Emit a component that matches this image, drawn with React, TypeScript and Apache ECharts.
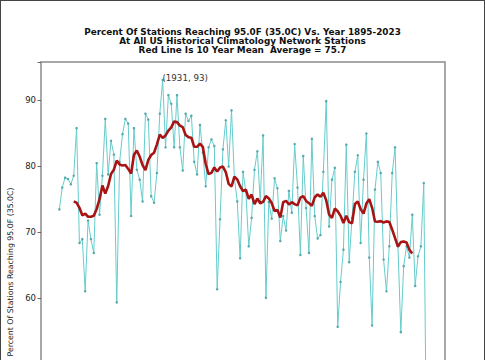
import React, { useEffect, useRef } from "react";
import * as echarts from "echarts";

const firstYear = 1895;
const stationPercent: number[] = [
  // 1895-1919
  73.4, 76.7, 78.2, 78.0, 77.2, 78.5, 85.7, 68.3, 68.9, 61.0,
  71.7, 68.9, 66.8, 80.4, 72.6, 78.5, 87.1, 78.7, 83.8, 81.7,
  59.3, 80.6, 84.8, 87.1, 86.4,
  // 1920-1944
  72.4, 85.7, 79.4, 77.9, 74.6, 87.9, 87.0, 75.4, 74.4, 78.9,
  87.9, 93.0, 82.8, 90.7, 89.4, 82.8, 90.7, 82.8, 79.3, 87.9,
  86.8, 87.6, 80.6, 78.7, 86.2,
  // 1945-1972
  82.0, 76.9, 82.8, 84.0, 83.0, 61.3, 71.9, 82.5, 86.9, 79.9,
  88.4, 78.1, 74.6, 66.0, 79.1, 76.1, 67.8, 72.1, 79.4, 82.2,
  74.6, 84.6, 60.0, 74.5, 72.0, 78.1, 76.6, 68.6,
  // 1973-1998
  72.4, 70.2, 76.2, 72.9, 83.3, 76.7, 66.5, 81.5, 73.6, 66.8,
  84.1, 72.4, 69.0, 69.5, 79.1, 89.8, 70.8, 77.9, 79.7, 55.6,
  62.4, 67.3, 83.2, 65.4, 72.1, 79.1,
  // 1999-2023
  81.6, 68.3, 77.9, 84.9, 66.1, 55.8, 76.4, 80.6, 78.9, 65.8,
  61.0, 67.8, 78.9, 82.8, 67.8, 54.8, 64.8, 67.8, 66.1, 72.6,
  61.8, 66.3, 67.8, 77.4, 35.0,
];
const yTickLabels = [60, 70, 80, 90];
const titleLines = [
  "Percent Of Stations Reaching 95.0F (35.0C) Vs. Year 1895-2023",
  "At All US Historical Climatology Network Stations",
  "Red Line Is 10 Year Mean  Average = 75.7",
];
const yLabel = "Percent Of Stations Reaching 95.0F (35.0C)";
const peakYear = 1931;
const meanWindow = 10;

export default function App() {
  const ref = useRef<HTMLDivElement>(null);
  useEffect(() => {
    if (!ref.current) return;
    const chart = echarts.init(ref.current, undefined, { renderer: "svg" });
    const years = stationPercent.map((_, i) => firstYear + i);
    const raw = stationPercent.map((v, i) => {
      if (years[i] === peakYear) {
        return {
          value: [years[i], v],
          label: {
            show: true,
            formatter: `(${years[i]}, ${v})`,
            position: [1, -5],
            fontSize: 8.7,
            color: "#333",
            fontFamily: "DejaVu Sans",
          },
        };
      }
      return [years[i], v];
    });
    const mean: number[][] = [];
    const half = meanWindow / 2;
    for (let i = half; i + half - 1 < stationPercent.length - 1; i++) {
      let s = 0;
      for (let k = i - half; k < i + half; k++) s += stationPercent[k];
      mean.push([years[i], s / meanWindow]);
    }
    const span = years[years.length - 1] - years[0];
    chart.setOption({
      animation: false,
      backgroundColor: "#fff",
      textStyle: { fontFamily: "DejaVu Sans" },
      grid: {
        left: 41,
        top: 62,
        width: 404,
        height: 433.8,
        show: true,
        borderColor: "#8c8c8c",
        borderWidth: 1.5,
        backgroundColor: "transparent",
      },
      xAxis: {
        type: "value",
        min: years[0] - span * 0.05,
        max: years[years.length - 1] + span * 0.05,
        axisLine: { show: false },
        splitLine: { show: false },
        axisTick: { show: false },
        axisLabel: { show: false },
      },
      yAxis: {
        type: "value",
        min: 30,
        max: 95.73,
        interval: 10,
        axisLine: { show: false },
        splitLine: { show: false },
        axisTick: { show: true, length: 3.5, lineStyle: { color: "#444", width: 0.8 } },
        axisLabel: {
          fontSize: 8.5,
          color: "#222",
          margin: 5,
          fontFamily: "DejaVu Sans",
          formatter: (v: number) => (yTickLabels.includes(Math.round(v * 100) / 100) ? String(v) : ""),
        },
      },
      graphic: [
        {
          type: "text",
          x: 242.5,
          y: 27,
          style: {
            text: titleLines.join("\n"),
            fontSize: 8.85,
            fontWeight: "bold",
            lineHeight: 9.3,
            fill: "#111",
            fontFamily: "DejaVu Sans",
            textAlign: "center",
            textVerticalAlign: "top",
          },
        },
        {
          type: "text",
          x: 10,
          y: 272,
          rotation: Math.PI / 2,
          style: {
            text: yLabel,
            fontSize: 7.8,
            fill: "#222",
            fontFamily: "DejaVu Sans",
            textAlign: "center",
            textVerticalAlign: "middle",
          },
        },
      ],
      series: [
        {
          type: "line",
          data: raw,
          symbol: "circle",
          symbolSize: 2.5,
          showSymbol: true,
          lineStyle: { color: "#66cccc", width: 1 },
          itemStyle: { color: "#5aa9a9" },
          z: 2,
        },
        {
          type: "line",
          data: mean,
          symbol: "none",
          lineStyle: { color: "#a81414", width: 2.6 },
          z: 3,
        },
      ],
    });
    return () => chart.dispose();
  }, []);
  return (
    <div
      style={{
        position: "fixed",
        left: 0,
        top: 0,
        width: 485,
        height: 360,
        overflow: "hidden",
        background: "#fff",
      }}
    >
      <div ref={ref} style={{ width: 485, height: 540 }} />
      <div
        style={{
          position: "absolute",
          left: 0,
          top: 0,
          width: 485,
          height: 360,
          boxSizing: "border-box",
          borderTop: "1px solid #444",
          borderLeft: "1px solid #444",
          borderRight: "1px solid #444",
          pointerEvents: "none",
        }}
      />
    </div>
  );
}
